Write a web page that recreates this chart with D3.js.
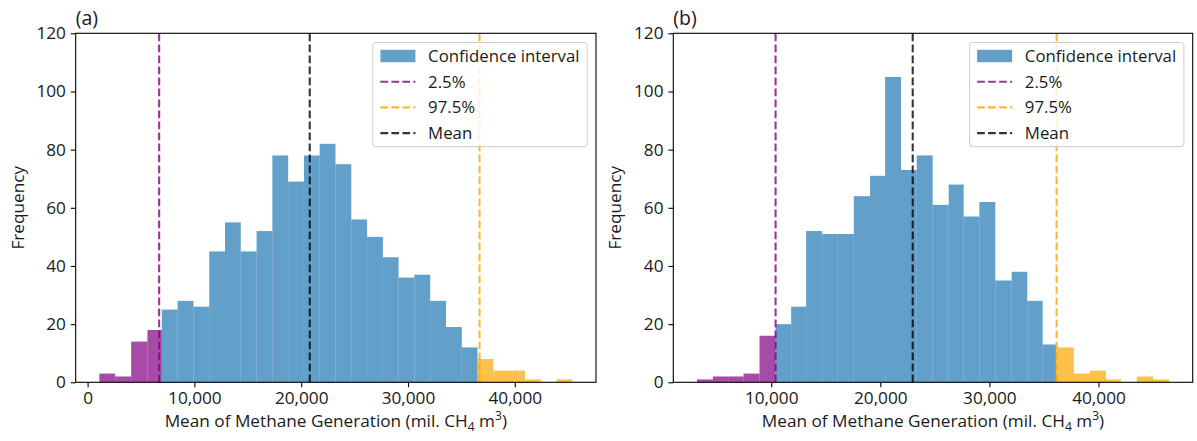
<!DOCTYPE html>
<html>
<head>
<meta charset="utf-8">
<script src="https://cdn.jsdelivr.net/npm/d3@7"></script>
<style>
  body { margin: 0; background: #fff; }
  text { font-family: "Open Sans", sans-serif; fill: #1a1a1a; }
</style>
</head>
<body>
<div id="chart"></div>
<script>
'use strict';

// ---- panel (a) ----
const lowEdgesA = [1100, 2580, 4080, 5600, 6950];
const lowCountsA = [3, 2, 14, 18];
const ciEdgesA = [6950, 8430, 9910, 11390, 12870, 14340, 15820, 17300, 18780, 20260, 21730,
                  23210, 24690, 26170, 27650, 29120, 30600, 32080, 33560, 35040, 36510];
const ciCountsA = [25, 28, 26, 45, 55, 45, 52, 78, 69, 78, 82, 75, 56, 50, 43, 36, 37, 28, 19, 12];
const highEdgesA = [36510, 37990, 39470, 40950, 42430, 43910, 45390];
const highCountsA = [8, 4, 4, 1, 0, 1];
const linesA = { p025: 6700, p975: 36700, mean: 20800 };

// ---- panel (b) ----
const lowEdgesB = [3190, 4655, 6060, 7460, 8930, 10400];
const lowCountsB = [1, 2, 2, 3, 16];
const ciEdgesB = [10400, 11830, 13200, 14670, 16100, 17570, 19060, 20440, 21900, 23340,
                  24800, 26270, 27640, 29080, 30540, 32040, 33470, 34880, 36100];
const ciCountsB = [20, 26, 52, 51, 51, 64, 71, 105, 73, 78, 61, 68, 57, 62, 35, 38, 28, 13];
const highEdgesB = [36100, 37740, 39210, 40680, 42050, 43510, 45010, 46470];
const highCountsB = [12, 3, 4, 1, 0, 2, 1];
const linesB = { p025: 10400, p975: 36160, mean: 22970 };

const yTicks = [0, 20, 40, 60, 80, 100, 120];
const xTicks = [0, 10000, 20000, 30000, 40000];
const panelTitles = ["(a)", "(b)"];
const legendLabels = ["Confidence interval", "2.5%", "97.5%", "Mean"];

const width = 1197;
const height = 441;
const fontSize = 17.2;

const colors = { ci: "#1f77b4", low: "purple", high: "orange", mean: "black" };

const svg = d3.select("#chart").append("svg")
    .attr("width", width)
    .attr("height", height);

function toBins(edges, counts) {
    return counts.map((n, i) => ({ x0: edges[i], x1: edges[i + 1], n: n })).filter(d => d.n > 0);
}

function drawPanel(opt) {
    const left = opt.left, right = opt.right, top = 33.3, bottom = 382.3;
    const g = svg.append("g");

    const allEdges = opt.low.edges.concat(opt.ci.edges, opt.high.edges);
    const lo = d3.min(allEdges), hi = d3.max(allEdges);
    const pad = (hi - lo) * 0.05;
    const x = d3.scaleLinear().domain([lo - pad, hi + pad]).range([left, right]);
    const y = d3.scaleLinear().domain([0, 120]).range([bottom, top]);

    // bars
    const series = [
        { key: "ci", data: opt.ci },
        { key: "low", data: opt.low },
        { key: "high", data: opt.high }
    ];
    series.forEach(s => {
        g.append("g").selectAll("rect")
            .data(toBins(s.data.edges, s.data.counts))
            .join("rect")
            .attr("x", d => x(d.x0))
            .attr("width", d => x(d.x1) - x(d.x0))
            .attr("y", d => y(d.n))
            .attr("height", d => y(0) - y(d.n))
            .attr("fill", colors[s.key])
            .attr("fill-opacity", 0.7);
    });

    // vertical dashed lines
    const vlines = [
        { v: opt.lines.p025, c: colors.low },
        { v: opt.lines.p975, c: colors.high },
        { v: opt.lines.mean, c: colors.mean }
    ];
    g.append("g").selectAll("line")
        .data(vlines)
        .join("line")
        .attr("x1", d => x(d.v)).attr("x2", d => x(d.v))
        .attr("y1", bottom).attr("y2", top)
        .attr("stroke", d => d.c)
        .attr("stroke-opacity", 0.8)
        .attr("stroke-width", 2.08)
        .attr("stroke-dasharray", "7.7,3.3");

    // axes
    const xAxis = g.append("g")
        .attr("transform", `translate(0,${bottom})`)
        .call(d3.axisBottom(x)
            .tickValues(xTicks.filter(t => t >= x.domain()[0] && t <= x.domain()[1]))
            .tickFormat(d3.format(","))
            .tickSize(4.9).tickPadding(4.9));
    const yAxis = g.append("g")
        .attr("transform", `translate(${left},0)`)
        .call(d3.axisLeft(y).tickValues(yTicks).tickSize(4.9).tickPadding(4.9));
    [xAxis, yAxis].forEach(a => {
        a.select(".domain").remove();
        a.selectAll("line").attr("stroke", "#000").attr("stroke-width", 1.1);
        a.selectAll("text").attr("font-size", fontSize).attr("font-family", null);
    });

    g.append("rect")
        .attr("x", left).attr("y", top)
        .attr("width", right - left).attr("height", bottom - top)
        .attr("fill", "none")
        .attr("stroke", "#000")
        .attr("stroke-width", 1.1);

    // title
    g.append("text")
        .attr("x", left).attr("y", 25)
        .attr("font-size", 19.5)
        .text(opt.title);

    // axis labels
    g.append("text")
        .attr("transform", `translate(${left - 52},${(top + bottom) / 2}) rotate(-90)`)
        .attr("text-anchor", "middle")
        .attr("font-size", fontSize)
        .text("Frequency");

    const xl = g.append("text")
        .attr("x", (left + right) / 2).attr("y", 427)
        .attr("text-anchor", "middle")
        .attr("font-size", fontSize);
    xl.append("tspan").text("Mean of Methane Generation (mil. CH");
    xl.append("tspan").attr("font-size", fontSize * 0.7).attr("dy", 4).text("4");
    xl.append("tspan").attr("dy", -4).text(" m");
    xl.append("tspan").attr("font-size", fontSize * 0.7).attr("dy", -7).text("3");
    xl.append("tspan").attr("dy", 7).text(")");

    // legend
    const lg = g.append("g");
    const box = lg.append("rect");
    const rowH = 25.7;
    const legendFont = 16.8;
    const handleX = 7.6, handleW = 35, textX = handleX + handleW + 12.7;
    const items = [
        { label: legendLabels[0], type: "patch", c: colors.ci },
        { label: legendLabels[1], type: "line", c: colors.low },
        { label: legendLabels[2], type: "line", c: colors.high },
        { label: legendLabels[3], type: "line", c: colors.mean }
    ];
    let maxW = 0;
    items.forEach((it, i) => {
        const cy = 13.5 + i * rowH;
        if (it.type === "patch") {
            lg.append("rect")
                .attr("x", handleX).attr("y", cy - 6.2)
                .attr("width", handleW).attr("height", 12.4)
                .attr("fill", it.c).attr("fill-opacity", 0.7);
        } else {
            lg.append("line")
                .attr("x1", handleX).attr("x2", handleX + handleW)
                .attr("y1", cy).attr("y2", cy)
                .attr("stroke", it.c).attr("stroke-opacity", 0.8)
                .attr("stroke-width", 2.08)
                .attr("stroke-dasharray", "7.7,3.3");
        }
        const t = lg.append("text")
            .attr("x", textX).attr("y", cy)
            .attr("dy", "0.35em")
            .attr("font-size", legendFont)
            .text(it.label);
        maxW = Math.max(maxW, t.node().getComputedTextLength());
    });
    const boxW = textX + maxW + 7.7;
    const boxH = 13.5 + 3 * rowH + 13.5;
    box.attr("width", boxW).attr("height", boxH)
        .attr("rx", 3)
        .attr("fill", "#fff").attr("fill-opacity", 0.8)
        .attr("stroke", "#ccc").attr("stroke-width", 1);
    lg.attr("transform", `translate(${right - 8.8 - boxW},${top + 9.2})`);
}

drawPanel({
    left: 75.7, right: 596, title: panelTitles[0],
    low: { edges: lowEdgesA, counts: lowCountsA },
    ci: { edges: ciEdgesA, counts: ciCountsA },
    high: { edges: highEdgesA, counts: highCountsA },
    lines: linesA
});

drawPanel({
    left: 673.3, right: 1192.7, title: panelTitles[1],
    low: { edges: lowEdgesB, counts: lowCountsB },
    ci: { edges: ciEdgesB, counts: ciCountsB },
    high: { edges: highEdgesB, counts: highCountsB },
    lines: linesB
});
</script>
</body>
</html>
